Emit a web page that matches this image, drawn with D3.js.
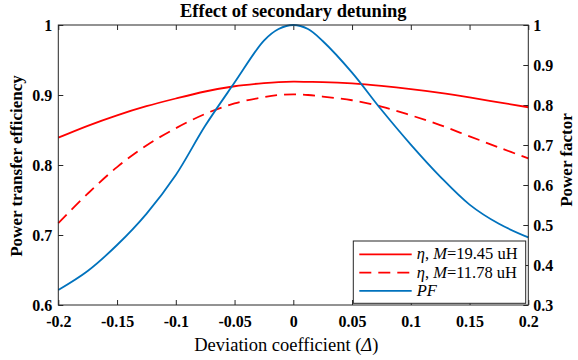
<!DOCTYPE html>
<html>
<head>
<meta charset="utf-8">
<script src="https://cdn.jsdelivr.net/npm/d3@7"></script>
<style>
  body { margin: 0; background: #fff; }
  svg { display: block; }
</style>
</head>
<body>
<svg id="drawing_region"></svg>
<script>
// deviation coefficient (shared x for all curves)
const delta = [-0.2, -0.175, -0.15, -0.125, -0.1, -0.075, -0.05, -0.025, -0.0125,
               0, 0.0125, 0.025, 0.05, 0.075, 0.1, 0.125, 0.15, 0.175, 0.2];

// efficiency, M = 19.45 uH (left axis)
const etaHigh = [0.839, 0.856, 0.871, 0.884, 0.895, 0.905, 0.9125, 0.917, 0.9185,
                 0.919, 0.9188, 0.9185, 0.9165, 0.913, 0.9085, 0.903, 0.8965, 0.8895, 0.8825];
// efficiency, M = 11.78 uH (left axis)
const etaLow = [0.717, 0.759, 0.797, 0.828, 0.8525, 0.873, 0.888, 0.897, 0.9,
                0.901, 0.9, 0.8978, 0.8925, 0.8835, 0.871, 0.857, 0.841, 0.825, 0.8095];
// power factor (right axis)
const pf = [0.3375, 0.385, 0.45, 0.528, 0.625, 0.748, 0.856, 0.961, 0.99,
            1.0, 0.99, 0.960, 0.881, 0.788, 0.701, 0.621, 0.551, 0.503, 0.469];

const xTicks = [-0.2, -0.15, -0.1, -0.05, 0, 0.05, 0.1, 0.15, 0.2];
const etaTicks = [0.6, 0.7, 0.8, 0.9, 1];
const pfTicks = [0.3, 0.4, 0.5, 0.6, 0.7, 0.8, 0.9, 1];

const legendLabels = [
    [['η', true], [', ', false], ['M', true], ['=19.45 uH', false]],
    [['η', true], [', ', false], ['M', true], ['=11.78 uH', false]],
    [['PF', true]]
];

class DetuningChart {

    constructor( config ) {
        this.config = {
            parent: config.parent,
            width: config.width || 578,
            height: config.height || 360,
            margin: config.margin || {top:25, right:49.7, bottom:55, left:58.3}
        }
        this.init();
    }

    init() {
        let self = this;

        self.svg = d3.select( self.config.parent )
            .attr('width', self.config.width)
            .attr('height', self.config.height)
            .style('font-family', '"Liberation Serif", "Times New Roman", serif');

        self.inner_width = self.config.width - self.config.margin.left - self.config.margin.right;
        self.inner_height = self.config.height - self.config.margin.top - self.config.margin.bottom;

        self.chart = self.svg.append('g')
            .attr('transform', `translate(${self.config.margin.left}, ${self.config.margin.top})`);

        self.xscale = d3.scaleLinear()
            .domain([-0.2, 0.2])
            .range([0, self.inner_width]);

        self.yleft = d3.scaleLinear()
            .domain([0.6, 1])
            .range([self.inner_height, 0]);

        self.yright = d3.scaleLinear()
            .domain([0.3, 1])
            .range([self.inner_height, 0]);
    }

    update() {
        let self = this;
        self.fmt = d => String(+d.toFixed(2));
        self.render();
    }

    render() {
        let self = this;
        const w = self.inner_width, h = self.inner_height;

        const styleAxis = g => {
            g.attr('font-family', null);
            g.select('.domain').remove();
            g.selectAll('.tick line').attr('stroke', '#262626');
            g.selectAll('.tick text')
                .attr('fill', '#000')
                .style('font-size', '16px')
                .style('font-weight', 'bold')
                .style('font-family', '"Liberation Serif", serif');
        };

        // bottom + top x ticks (inward)
        self.chart.append('g')
            .attr('transform', `translate(0, ${h})`)
            .call(d3.axisBottom(self.xscale).tickValues(xTicks).tickFormat(self.fmt)
                .tickSizeInner(-5).tickSizeOuter(0).tickPadding(11))
            .call(styleAxis);

        self.chart.append('g')
            .call(d3.axisTop(self.xscale).tickValues(xTicks).tickFormat('')
                .tickSizeInner(-5).tickSizeOuter(0))
            .call(styleAxis);

        self.chart.append('g')
            .call(d3.axisLeft(self.yleft).tickValues(etaTicks).tickFormat(self.fmt)
                .tickSizeInner(-5).tickSizeOuter(0).tickPadding(6))
            .call(styleAxis);

        self.chart.append('g')
            .attr('transform', `translate(${w}, 0)`)
            .call(d3.axisRight(self.yright).tickValues(pfTicks).tickFormat(self.fmt)
                .tickSizeInner(-5).tickSizeOuter(0).tickPadding(5))
            .call(styleAxis);

        // curves
        const rows = delta.map((x, i) => ({x: x, a: etaHigh[i], b: etaLow[i], p: pf[i]}));

        const line = (key, scale) => d3.line()
            .x(d => self.xscale(d.x))
            .y(d => scale(d[key]))
            .curve(d3.curveCatmullRom.alpha(0.5));

        self.chart.append('path')
            .datum(rows)
            .attr('d', line('a', self.yleft))
            .attr('fill', 'none')
            .attr('stroke', '#ff0000')
            .attr('stroke-width', 1.8);

        self.chart.append('path')
            .datum(rows)
            .attr('d', line('b', self.yleft))
            .attr('fill', 'none')
            .attr('stroke', '#ff0000')
            .attr('stroke-width', 1.8)
            .attr('stroke-dasharray', '12,7');

        self.chart.append('path')
            .datum(rows)
            .attr('d', line('p', self.yright))
            .attr('fill', 'none')
            .attr('stroke', '#0072bd')
            .attr('stroke-width', 1.8);

        // box
        self.chart.append('rect')
            .attr('width', w)
            .attr('height', h)
            .attr('fill', 'none')
            .attr('stroke', '#262626')
            .attr('stroke-width', 1);

        // legend
        const lg = self.chart.append('g')
            .attr('transform', `translate(${w - 175}, ${h - 64})`);

        lg.append('rect')
            .attr('width', 172.4)
            .attr('height', 62.3)
            .attr('fill', '#fff')
            .attr('stroke', '#262626')
            .attr('stroke-width', 1);

        const items = [
            {color: '#ff0000', dash: null},
            {color: '#ff0000', dash: '12,7'},
            {color: '#0072bd', dash: null}
        ];

        items.forEach((it, i) => {
            const cy = 13.3 + i * 18.3;
            lg.append('line')
                .attr('x1', 6).attr('x2', 58.4)
                .attr('y1', cy).attr('y2', cy)
                .attr('stroke', it.color)
                .attr('stroke-width', 1.8)
                .attr('stroke-dasharray', it.dash);
            const t = lg.append('text')
                .attr('x', 63.4)
                .attr('y', cy + 5)
                .style('font-size', '16.5px')
                .style('font-family', '"Liberation Serif", serif');
            legendLabels[i].forEach(p => {
                t.append('tspan')
                    .style('font-style', p[1] ? 'italic' : 'normal')
                    .text(p[0]);
            });
        });

        // texts
        self.svg.append('text')
            .attr('x', self.config.margin.left + w / 2)
            .attr('y', 17)
            .attr('text-anchor', 'middle')
            .style('font-size', '18.5px')
            .style('font-weight', 'bold')
            .text('Effect of secondary detuning');

        const xl = self.svg.append('text')
            .attr('x', self.config.margin.left + w / 2 - 7)
            .attr('y', 351)
            .attr('text-anchor', 'middle')
            .style('font-size', '18.5px');
        xl.append('tspan').text('Deviation coefficient (');
        xl.append('tspan').style('font-style', 'italic').text('Δ');
        xl.append('tspan').text(')');

        self.svg.append('text')
            .attr('transform', `translate(22, ${self.config.margin.top + h / 2 + 1}) rotate(-90)`)
            .attr('text-anchor', 'middle')
            .style('font-size', '17px')
            .style('font-weight', 'bold')
            .text('Power transfer efficiency');

        self.svg.append('text')
            .attr('transform', `translate(572, 160) rotate(-90)`)
            .attr('text-anchor', 'middle')
            .style('font-size', '17px')
            .style('font-weight', 'bold')
            .text('Power factor');
    }
}

const chart = new DetuningChart({
    parent: '#drawing_region',
    width: 578,
    height: 360
});
chart.update();
</script>
</body>
</html>
